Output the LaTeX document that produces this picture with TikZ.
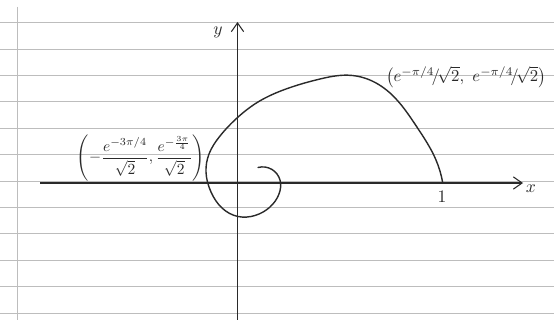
\documentclass[tikz,border=0pt]{standalone}
\usepackage{amsmath}
\usetikzlibrary{arrows.meta,hobby}
\definecolor{ink}{HTML}{2A2A2A}
\definecolor{ruling}{HTML}{BDBDBD}
\tikzset{
  rule/.style={draw=ruling, line width=0.5pt},
  axis/.style={draw=ink, line width=0.6pt, -{Straight Barb[length=5pt,width=7pt]}},
  spiral/.style={draw=ink, line width=0.8pt, line cap=round, line join=round},
  lab/.style={text=ink, inner sep=1pt}
}
\begin{document}
\begin{tikzpicture}[x=0.02cm,y=-0.02cm]
  \useasboundingbox[fill=white] (0,0) rectangle (554,320);
  % ruled paper
  \foreach \k in {0,...,11}
    \draw[rule] (0,22.7+26.4*\k) -- (554,22.7+26.4*\k);
  \draw[rule] (17,7) -- (17,320);
  % axes
  \coordinate (xl) at (40,183);
  \coordinate (xr) at (523,183);
  \coordinate (yb) at (237.5,320);
  \coordinate (yt) at (237.5,22);
  \draw[axis] (xl) -- (xr);
  \draw[axis] (yb) -- (yt);
  \node[lab] (ylab) at (218,32) {$y$};
  \node[lab] (xlab) at (531,189) {$x$};
  \node[lab] (one) at (442,197) {$1$};
  % the spiral
  \coordinate (s0) at (442.7,182.7);
  \coordinate (s1) at (258,167.5);
  \draw[spiral] (s0) to[curve through={(436,160) (416.7,126.7) (390,93)
    (366,78.5) (348,75.2) (320,79) (286,89) (258,102) (237,118) (220,136)
    (209,154) (206,172) (211,192) (222,208) (238,216.5) (255,215.5)
    (270,207) (279,194) (280,180) (272,169.5)}] (s1);
  % labels of the two points
  \node[lab, scale=0.95] (ptop) at (466,77)
    {$\left(e^{-\pi/4}\!/\!\sqrt{2},\ e^{-\pi/4}\!/\!\sqrt{2}\right)$};
  \node[lab, scale=0.88] (pleft) at (141,158)
    {$\left(-\dfrac{e^{-3\pi/4}}{\sqrt{2}},\dfrac{e^{-\frac{3\pi}{4}}}{\sqrt{2}}\right)$};
\end{tikzpicture}
\end{document}
